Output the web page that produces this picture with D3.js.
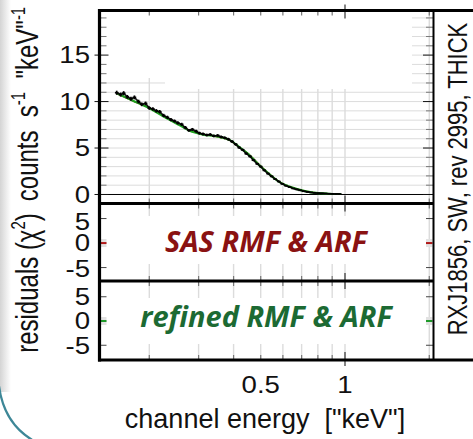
<!DOCTYPE html>
<html>
<head>
<meta charset="utf-8">
<script src="https://cdn.jsdelivr.net/npm/d3@7"></script>
<style>
  body { margin: 0; background: #fff; }
  svg { display: block; }
</style>
</head>
<body>
<svg id="chart" width="473" height="439"></svg>
<script>
// Spectrum: channel energy (keV) and count rate (counts s^-1 keV^-1)
const energies = [0.153, 0.158, 0.162, 0.167, 0.172, 0.177, 0.183, 0.188, 0.194, 0.200,
                  0.206, 0.212, 0.218, 0.225, 0.232, 0.239, 0.246, 0.253, 0.261, 0.269,
                  0.277, 0.285, 0.294, 0.302, 0.311, 0.321, 0.330, 0.340, 0.351, 0.361,
                  0.372, 0.383, 0.395, 0.407, 0.419, 0.431, 0.444, 0.458, 0.471, 0.486,
                  0.500, 0.515, 0.531, 0.547, 0.563, 0.580, 0.597, 0.615, 0.634, 0.653,
                  0.672, 0.692, 0.713, 0.735, 0.757, 0.779, 0.803, 0.827, 0.851, 0.877,
                  0.903, 0.930, 0.958];
const counts   = [10.95, 10.75, 10.9, 10.5, 10.3, 10.45, 10.0, 9.7, 9.8, 9.3,
                  9.2, 9.0, 8.9, 8.5, 8.3, 8.05, 7.9, 7.7, 7.55, 7.2,
                  6.9, 7.0, 6.8, 6.6, 6.5, 6.4, 6.45, 6.3, 6.35, 6.2,
                  6.1, 5.95, 5.7, 5.4, 5.05, 4.8, 4.4, 4.1, 3.7, 3.3,
                  3.0, 2.6, 2.25, 1.95, 1.65, 1.4, 1.15, 0.95, 0.8, 0.65,
                  0.55, 0.45, 0.35, 0.28, 0.22, 0.18, 0.14, 0.12, 0.10, 0.08,
                  0.07, 0.06, 0.05];
const countErrors = [0.22, 0.22, 0.22, 0.21, 0.21, 0.21, 0.2, 0.2, 0.2, 0.19,
                     0.19, 0.19, 0.19, 0.18, 0.18, 0.18, 0.17, 0.17, 0.17, 0.17,
                     0.16, 0.16, 0.16, 0.16, 0.16, 0.15, 0.15, 0.15, 0.15, 0.15,
                     0.15, 0.15, 0.14, 0.14, 0.14, 0.13, 0.13, 0.12, 0.12, 0.11,
                     0.11, 0.1, 0.1, 0.09, 0.09, 0.08, 0.08, 0.07, 0.07, 0.06,
                     0.06, 0.05, 0.05, 0.05, 0.04, 0.04, 0.04, 0.03, 0.03, 0.03,
                     0.03, 0.03, 0.03];

// Folded models
const modelEnergies = [0.153, 0.175, 0.201, 0.231, 0.257, 0.279, 0.311, 0.349, 0.388,
                       0.422, 0.447, 0.505, 0.586, 0.674, 0.769, 0.870, 0.968];
const refinedModel  = [10.9, 10.1, 9.25, 8.2, 7.45, 6.85, 6.45, 6.25, 5.85,
                       5.05, 4.45, 2.9, 1.3, 0.58, 0.2, 0.08, 0.05];
const sasModel      = [10.85, 10.05, 9.3, 8.25, 7.5, 6.9, 6.5, 6.2, 5.8,
                       5.0, 4.5, 2.95, 1.35, 0.6, 0.22, 0.09, 0.05];

// Axes
const countTicks    = [0, 5, 10, 15];
const residualTicks = [-5, 0, 5];
const energyLabels  = [0.5, 1];
const energyGrid    = [0.2, 0.3, 0.4, 0.5, 0.6, 0.7, 0.8, 0.9, 1, 2];
const panelLabels   = ["SAS RMF & ARF", "refined RMF & ARF"];
const panelColors   = ["#8a1212", "#1c6a33"];
const residualColors = ["#b01818", "#1f9a2a"];
const sideLabel     = "RXJ1856, SW, rev 2995, THICK";

const svg = d3.select("#chart");
const L = 99.5, R = 433, T = 10.5, B1 = 203.5, B2 = 281, B3 = 360;

const x = d3.scaleLog().domain([0.1328, 2.062]).range([L, R]);
const y = d3.scaleLinear().domain([-0.97, 19.8]).range([B1, T]);
const yRes = [
  d3.scaleLinear().domain([-7.74, 8.07]).range([B2, B1]),
  d3.scaleLinear().domain([-8.04, 8.25]).range([B3, B2])
];
const panels = [[T, B1], [B1, B2], [B2, B3]];

// Soft edge of the slide frame
const defs = svg.append("defs");
const grad = defs.append("linearGradient").attr("id", "edge").attr("x1", 0).attr("x2", 1);
grad.append("stop").attr("offset", 0).attr("stop-color", "#d4d4d4");
grad.append("stop").attr("offset", 1).attr("stop-color", "#ffffff");
svg.append("rect").attr("x", 0).attr("y", 0).attr("width", 11).attr("height", 392).attr("fill", "url(#edge)");
svg.append("path").attr("d", "M-1,386 Q4,424 34,441").attr("fill", "none")
   .attr("stroke", "#3d8797").attr("stroke-width", 2.2);

// Grid
const grid = svg.append("g").attr("stroke", "#dcdcdc");
grid.selectAll("line.v").data(energyGrid).join("line")
  .attr("x1", d => x(d)).attr("x2", d => x(d)).attr("y1", T).attr("y2", B3)
  .attr("stroke-width", 1.4);
grid.selectAll("line.h").data(d3.range(0, 20)).join("line")
  .attr("x1", L).attr("x2", R).attr("y1", d => y(d)).attr("y2", d => y(d))
  .attr("stroke-width", 1);

// Backdrops behind the legend area and the panel captions
const backdrop = svg.append("g").attr("fill", "#fff");
backdrop.append("rect").attr("x", 102).attr("y", 12).attr("width", 310).attr("height", 66);
backdrop.append("rect").attr("x", 165).attr("y", 78).attr("width", 247).attr("height", 11);
backdrop.append("rect").attr("x", 106).attr("y", 216).attr("width", 319).attr("height", 48);
backdrop.append("rect").attr("x", 106).attr("y", 298).attr("width", 319).attr("height", 46);

// Zero line of the spectrum panel
svg.append("line").attr("x1", L).attr("x2", R).attr("y1", y(0)).attr("y2", y(0))
   .attr("stroke", "#000").attr("stroke-width", 1);

// Models
const modelLine = (arr) => d3.line().x((d, i) => x(modelEnergies[i])).y(d => y(d)).curve(d3.curveMonotoneX)(arr);
svg.append("path").attr("d", modelLine(sasModel)).attr("fill", "none")
   .attr("stroke", "#b04a2a").attr("stroke-width", 1.2);
svg.append("path").attr("d", modelLine(refinedModel)).attr("fill", "none")
   .attr("stroke", "#1fa01f").attr("stroke-width", 2.2);

// Data with error crosses
const data = energies.map((e, i) => ({ e, v: counts[i], err: countErrors[i] }));
svg.append("path")
   .attr("d", d3.line().x(d => x(d.e)).y(d => y(d.v))(data))
   .attr("fill", "none").attr("stroke", "#000").attr("stroke-width", 1.6).attr("opacity", 0.9);
const pts = svg.append("g").attr("stroke", "#000").attr("stroke-width", 1.7);
pts.selectAll("line.xb").data(data).join("line")
  .attr("x1", d => x(d.e / 1.015)).attr("x2", d => x(d.e * 1.015))
  .attr("y1", d => y(d.v)).attr("y2", d => y(d.v));
pts.selectAll("line.yb").data(data).join("line")
  .attr("x1", d => x(d.e)).attr("x2", d => x(d.e))
  .attr("y1", d => y(d.v - d.err)).attr("y2", d => y(d.v + d.err));

// Residual zero markers at the panel edges
yRes.forEach((ys, k) => {
  [[L + 0.5, 6.5], [R - 7, 6.5]].forEach(([x0, w]) => {
    svg.append("rect").attr("x", x0).attr("y", ys(0) - 4).attr("width", w).attr("height", 8).attr("fill", "#e2e2e2");
    svg.append("line").attr("x1", x0).attr("x2", x0 + w).attr("y1", ys(0)).attr("y2", ys(0))
       .attr("stroke", residualColors[k]).attr("stroke-width", 2);
  });
});

// Energy ticks on every panel edge
const tickG = svg.append("g");
panels.forEach(([top, bot]) => {
  energyGrid.forEach(d => {
    const major = d === 1;
    const len = major ? 8 : 5;
    tickG.append("line").attr("x1", x(d)).attr("x2", x(d)).attr("y1", top).attr("y2", top + len)
      .attr("stroke", major ? "#333" : "#777").attr("stroke-width", 1.2);
    tickG.append("line").attr("x1", x(d)).attr("x2", x(d)).attr("y1", bot - len).attr("y2", bot)
      .attr("stroke", major ? "#333" : "#777").attr("stroke-width", 1.2);
  });
});
tickG.append("line").attr("x1", x(1)).attr("x2", x(1)).attr("y1", T - 6).attr("y2", T).attr("stroke", "#333").attr("stroke-width", 1.2);
tickG.append("line").attr("x1", x(1)).attr("x2", x(1)).attr("y1", B3).attr("y2", B3 + 6).attr("stroke", "#333").attr("stroke-width", 1.2);

// Count-rate ticks (left and right)
d3.range(0, 20).forEach(v => {
  const major = v % 5 === 0;
  tickG.append("line").attr("x1", major ? L - 5 : L).attr("x2", L + (major ? 9 : 7))
    .attr("y1", y(v)).attr("y2", y(v)).attr("stroke", major ? "#111" : "#777").attr("stroke-width", 1);
  tickG.append("line").attr("x1", R - (major ? 10 : 7)).attr("x2", R)
    .attr("y1", y(v)).attr("y2", y(v)).attr("stroke", major ? "#111" : "#777").attr("stroke-width", 1);
});
// Residual ticks
yRes.forEach(ys => {
  [-5, 5].forEach(v => {
    tickG.append("line").attr("x1", L).attr("x2", L + 7).attr("y1", ys(v)).attr("y2", ys(v)).attr("stroke", "#444").attr("stroke-width", 1);
    tickG.append("line").attr("x1", R - 7).attr("x2", R).attr("y1", ys(v)).attr("y2", ys(v)).attr("stroke", "#444").attr("stroke-width", 1);
  });
});

// Frame
const frame = svg.append("g").attr("stroke", "#000").attr("fill", "none");
frame.append("line").attr("x1", L).attr("x2", L).attr("y1", T - 1.5).attr("y2", B3 + 1.5).attr("stroke-width", 3.2);
frame.append("line").attr("x1", L - 1.5).attr("x2", 473).attr("y1", T).attr("y2", T).attr("stroke-width", 3);
frame.append("line").attr("x1", L - 1.5).attr("x2", 473).attr("y1", B3).attr("y2", B3).attr("stroke-width", 3);
frame.append("line").attr("x1", L).attr("x2", R).attr("y1", B1).attr("y2", B1).attr("stroke-width", 3.2);
frame.append("line").attr("x1", L).attr("x2", R).attr("y1", B2).attr("y2", B2).attr("stroke-width", 3);
frame.append("line").attr("x1", R + 0.5).attr("x2", R + 0.5).attr("y1", T).attr("y2", B3).attr("stroke-width", 2);

// Tick labels (slightly widened glyphs)
const font = "'Liberation Sans', Arial, sans-serif";
const labels = svg.append("g").attr("font-family", font).attr("font-size", 23).attr("fill", "#111");
const tickLabel = (tx, ty, t, anchor) => labels.append("text")
  .attr("transform", `translate(${tx},${ty}) scale(1.2,1)`)
  .attr("dy", "0.36em").attr("text-anchor", anchor).text(t);
countTicks.forEach(d => tickLabel(90, y(d), d, "end"));
// residual labels sit a little below their ticks near the panel top
const resLabelShift = [[3, 0, 1], [0, 0, 0]];
yRes.forEach((ys, k) => {
  residualTicks.forEach((d, i) => tickLabel(90, ys(d) + resLabelShift[k][2 - i], d, "end"));
});
energyLabels.forEach(d => tickLabel(x(d), 385, d, "middle"));

// Axis titles
svg.append("text").attr("x", 265).attr("y", 428).attr("text-anchor", "middle")
   .attr("font-family", font).attr("font-size", 27).attr("fill", "#111")
   .attr("xml:space", "preserve").text("channel energy  [\"keV\"]");

const yTitle = svg.append("text").attr("transform", "translate(38,104) scale(1.3,1) rotate(-90)")
   .attr("text-anchor", "middle").attr("font-family", font).attr("font-size", 24).attr("fill", "#111")
   .attr("xml:space", "preserve");
yTitle.append("tspan").text("counts  s");
yTitle.append("tspan").attr("font-size", 15).attr("dy", -10).text("-1");
yTitle.append("tspan").attr("dy", 10).text("  \"keV\"");
yTitle.append("tspan").attr("font-size", 15).attr("dy", -10).text("-1");

const rTitle = svg.append("text").attr("transform", "translate(38,283) scale(1.3,1) rotate(-90)")
   .attr("text-anchor", "middle").attr("font-family", font).attr("font-size", 24).attr("fill", "#111");
rTitle.append("tspan").text("residuals (χ");
rTitle.append("tspan").attr("font-size", 15).attr("dy", -10).text("2");
rTitle.append("tspan").attr("dy", 10).text(")");

// Observation label in the side strip
svg.append("text").attr("transform", "translate(467,179) scale(1.25,1) rotate(-90)")
   .attr("text-anchor", "middle").attr("font-family", font).attr("font-size", 22).attr("fill", "#111")
   .text(sideLabel);

// Panel captions
const capY = [252, 327];
panelLabels.forEach((t, k) => {
  svg.append("text").attr("x", 266).attr("y", capY[k]).attr("text-anchor", "middle")
    .attr("font-family", "'Open Sans', sans-serif").attr("font-weight", 700).attr("font-style", "italic")
    .attr("font-size", 29).attr("fill", panelColors[k]).text(t);
});
</script>
</body>
</html>
